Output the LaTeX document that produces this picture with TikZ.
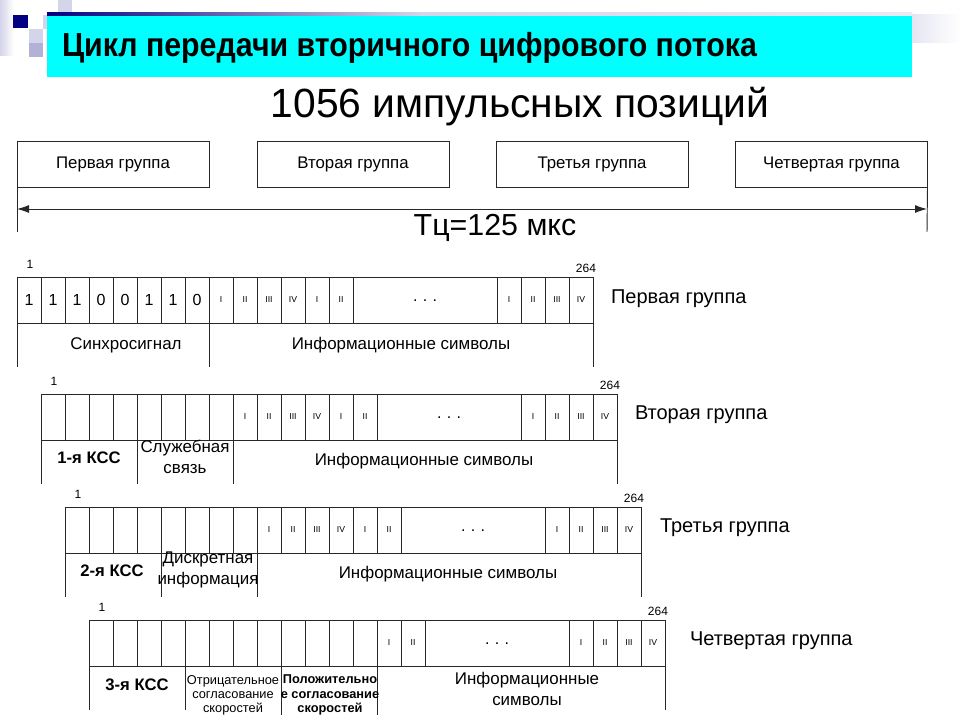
\documentclass[tikz,border=0pt]{standalone}
\usepackage{fontspec}
\setmainfont{Liberation Sans}
\newfontfamily\titlefont{Liberation Sans Bold}[FakeStretch=0.91]
\usetikzlibrary{arrows.meta}
\definecolor{lav}{RGB}{178,178,214}
\definecolor{lavlt}{RGB}{212,212,234}
\definecolor{navyd}{RGB}{0,0,128}
\definecolor{cyanc}{RGB}{0,255,255}
\definecolor{lnc}{RGB}{40,40,40}
\newcommand\fsz[1]{\fontsize{#1}{#1}\selectfont}
\newcommand\rowframe[3]{%
  \draw[ln] (#1,#2) rectangle (#1+576,#2+46);
  \foreach \k in {1,...,14} \draw[ln] (#1+24*\k,#2) -- (#1+24*\k,#2+46);
  \foreach \k in {480,504,528,552} \draw[ln] (#1+\k,#2) -- (#1+\k,#2+46);
  \draw[ln] (#1,#2+46) -- (#1,#2+90);
  \draw[ln] (#1+576,#2+46) -- (#1+576,#2+90);
  \node[celltxt] (#3-dots) at (#1+408,#2+24) {.\,\,.\,\,.};
  \foreach \n [count=\i from 0] in {I,II,III,IV}
    \node[rom] (#3-e\i) at (#1+492+24*\i,#2+23) {\n};
  \node[numlbl] (#3-first) at (#1+13,#2-13) {1};
  \node[numlbl] (#3-last) at (#1+569,#2-9) {264};
}
\begin{document}
\begin{tikzpicture}[x=0.75pt,y=-0.75pt,
  every node/.style={inner sep=0pt, outer sep=0pt, text=black},
  ln/.style={draw=lnc, line width=0.7pt},
  grpbox/.style={draw=lnc, line width=0.7pt, minimum width=144pt, minimum height=34.5pt, font=\fsz{12.6}},
  celltxt/.style={font=\fsz{12}},
  rom/.style={font=\fsz{6.5}},
  numlbl/.style={font=\fsz{9}},
  lowtxt/.style={font=\fsz{12.7}, align=center},
  kss/.style={font=\bfseries\fsz{12.5}},
  smalltxt/.style={font=\fsz{9.6}, align=center},
  smallbold/.style={font=\bfseries\fsz{9.6}, align=center},
  grplbl/.style={font=\fsz{15}, anchor=west}
]
\useasboundingbox (0,0) rectangle (960,720);
% decoration
\shade[left color=lavlt, right color=white] (0,0) rectangle (14,56);
\fill[navyd] (13,15) rectangle (28,28);
\fill[lavlt] (58,0) rectangle (72,14);
\fill[lavlt] (43,15) rectangle (58,29);
\fill[lavlt] (29,29) rectangle (43,43);
\fill[lav] (29,43) rectangle (43,57);
\shade[left color=navyd, right color=lavlt] (47,13) rectangle (420,16);
\shade[left color=lavlt, right color=lavlt!50] (420,13) rectangle (912,16);
\shade[left color=lavlt!60, right color=white] (912,15) rectangle (960,43);
\fill[cyanc] (47,16) rectangle (912,77);
\node[anchor=west, font=\titlefont\fsz{25}] (title) at (62,48) {Цикл передачи вторичного цифрового потока};
\node[font=\fsz{30.6}] (imp) at (520,107) {1056 импульсных позиций};
% group boxes
\node[grpbox] (g1) at (113,164) {Первая группа};
\node[grpbox] (g2) at (353,164) {Вторая группа};
\node[grpbox] (g3) at (592,164) {Третья группа};
\node[grpbox] (g4) at (831.5,164) {Четвертая группа};
\coordinate (t1) at (17,232);
\coordinate (t2) at (927,232);
\coordinate (aL) at (17,209);
\coordinate (aR) at (927,209);
\draw[ln] (g1.south west) -- (t1);
\draw[ln] (g4.south east) -- (t2);
\draw[ln, {Latex[length=9pt,width=6pt]}-{Latex[length=9pt,width=6pt]}] (aL) -- (aR);
\node[font=\fsz{22.8}] (tc) at (495,228) {Тц=125 мкс};
% row 1
\rowframe{17}{277}{r1}
\foreach \d [count=\i from 0] in {1,1,1,0,0,1,1,0}
  \node[celltxt] (r1-d\i) at (29+24*\i,300) {\d};
\foreach \n [count=\i from 0] in {I,II,III,IV,I,II}
  \node[rom] (r1-n\i) at (221+24*\i,300) {\n};
\draw[ln] (209,323) -- (209,367);
\node[lowtxt] (r1-sync) at (126,345) {Синхросигнал};
\node[lowtxt] (r1-info) at (401,345) {Информационные символы};
\node[grplbl] (r1-name) at (611,299) {Первая группа};
% row 2
\rowframe{41}{394}{r2}
\foreach \n [count=\i from 0] in {I,II,III,IV,I,II}
  \node[rom] (r2-n\i) at (245+24*\i,417) {\n};
\draw[ln] (137,440) -- (137,484);
\draw[ln] (233,440) -- (233,484);
\node[kss] (r2-kss) at (89,458) {1-я КСС};
\node[lowtxt] (r2-serv) at (185,457) {Служебная\\[3pt]связь};
\node[lowtxt] (r2-info) at (424,461) {Информационные символы};
\node[grplbl] (r2-name) at (635,415) {Вторая группа};
% row 3
\rowframe{65}{507}{r3}
\foreach \n [count=\i from 0] in {I,II,III,IV,I,II}
  \node[rom] (r3-n\i) at (269+24*\i,530) {\n};
\draw[ln] (161,553) -- (161,597);
\draw[ln] (257,553) -- (257,597);
\node[kss] (r3-kss) at (112,571) {2-я КСС};
\node[lowtxt] (r3-disc) at (208,570) {Дискретная\\[3pt]информация};
\node[lowtxt] (r3-info) at (448,574) {Информационные символы};
\node[grplbl] (r3-name) at (660,528) {Третья группа};
% row 4
\rowframe{89}{620}{r4}
\foreach \n [count=\i from 0] in {I,II}
  \node[rom] (r4-n\i) at (389+24*\i,643) {\n};
\draw[ln] (185,666) -- (185,710);
\draw[ln] (281,666) -- (281,715);
\draw[ln] (377,666) -- (377,715);
\node[kss] (r4-kss) at (137,685) {3-я КСС};
\node[smalltxt] (r4-neg) at (233,695) {Отрицательное\\[1pt]согласование\\[1pt]скоростей};
\node[smallbold] (r4-pos) at (330,695) {Положительно\\[1pt]е согласование\\[1pt]скоростей};
\node[lowtxt] (r4-info) at (527,689) {Информационные\\[3pt]символы};
\node[grplbl] (r4-name) at (690,641) {Четвертая группа};
\end{tikzpicture}
\end{document}
